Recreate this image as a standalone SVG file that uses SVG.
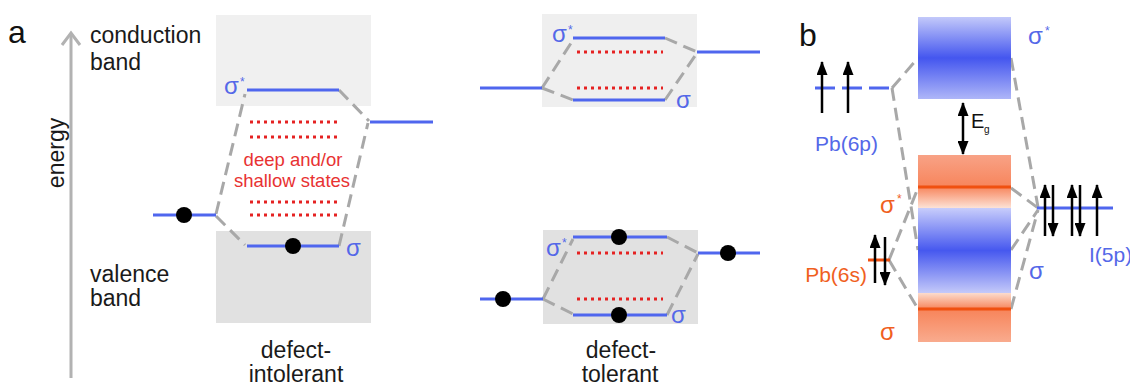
<svg xmlns="http://www.w3.org/2000/svg" width="1130" height="388" viewBox="0 0 1130 388">
  <style>
    text { font-family: "Liberation Sans", Arial, sans-serif; }
    .lbl { font-size: 23px; fill: #1a1a1a; }
    .panel { font-size: 32px; fill: #111; }
    .bl { fill: #5468e8; }
    .or { fill: #f0601e; }
    .sig { font-size: 24px; }
    .star { font-size: 12px; }
    .lvl { stroke: #4f66ee; stroke-width: 3; fill: none; }
    .dash { stroke: #a8a8a8; stroke-width: 3; stroke-dasharray: 13 7; fill: none; }
    .dots { stroke: #e52222; stroke-width: 3; stroke-dasharray: 3 4; fill: none; }
    .el { fill: #000; }
    .spin { stroke: #000; stroke-width: 2.5; fill: none; }
    .redtxt { font-size: 18.5px; fill: #e83232; }
  </style>
  <defs>
    <marker id="head" viewBox="0 0 14 11" refX="13" refY="5.5" markerWidth="14" markerHeight="11" markerUnits="userSpaceOnUse" orient="auto-start-reverse">
      <path d="M0,0 L14,5.5 L0,11 z" fill="#000"/>
    </marker>
    <linearGradient id="gBlueTop" x1="0" y1="0" x2="0" y2="1">
      <stop offset="0" stop-color="#c3c9fa"/>
      <stop offset="0.5" stop-color="#4456ef"/>
      <stop offset="1" stop-color="#aeb6f8"/>
    </linearGradient>
    <linearGradient id="gBlueMid" x1="0" y1="0" x2="0" y2="1">
      <stop offset="0" stop-color="#c8cdfb"/>
      <stop offset="0.5" stop-color="#4658ef"/>
      <stop offset="1" stop-color="#c4c9f9"/>
    </linearGradient>
    <linearGradient id="gOrTop" x1="0" y1="0" x2="0" y2="1">
      <stop offset="0" stop-color="#f8a286"/>
      <stop offset="0.6" stop-color="#f7855c"/>
      <stop offset="1" stop-color="#fde2d6"/>
    </linearGradient>
    <linearGradient id="gOrBot" x1="0" y1="0" x2="0" y2="1">
      <stop offset="0" stop-color="#fcdccd"/>
      <stop offset="0.33" stop-color="#f7845a"/>
      <stop offset="1" stop-color="#f9ab8e"/>
    </linearGradient>
  </defs>

  <!-- panel a: energy axis -->
  <g id="axis">
    <text class="panel" x="8" y="43">a</text>
    <line x1="71" y1="378" x2="71" y2="34" stroke="#b2b2b2" stroke-width="3"/>
    <polyline points="62,45 71,33 80,45" stroke="#b2b2b2" stroke-width="3" fill="none"/>
    <text class="lbl" transform="translate(64,153) rotate(-90)" text-anchor="middle">energy</text>
    <text class="lbl" x="90" y="43">conduction</text>
    <text class="lbl" x="90" y="70">band</text>
    <text class="lbl" x="90" y="282">valence</text>
    <text class="lbl" x="90" y="306">band</text>
  </g>

  <!-- band backgrounds -->
  <g id="bands">
    <rect x="216" y="15" width="155" height="91" fill="#f0f0f0"/>
    <rect x="216" y="231" width="155" height="92" fill="#e1e1e1"/>
    <rect x="542" y="14" width="155" height="93" fill="#efefef"/>
    <rect x="543" y="230" width="155" height="94" fill="#e1e1e1"/>
  </g>

  <!-- connectors -->
  <g id="connectors">
    <!-- defect-intolerant -->
    <line class="dash" x1="216" y1="214" x2="245" y2="94"/>
    <line class="dash" x1="216" y1="216" x2="245" y2="245"/>
    <line class="dash" x1="339" y1="90" x2="369" y2="121"/>
    <line class="dash" x1="339" y1="246" x2="368" y2="123"/>
    <!-- defect-tolerant, upper -->
    <line class="dash" x1="542" y1="88" x2="573" y2="40"/>
    <line class="dash" x1="542" y1="88" x2="573" y2="100"/>
    <line class="dash" x1="665" y1="38" x2="697" y2="52"/>
    <line class="dash" x1="665" y1="100" x2="697" y2="53"/>
    <!-- defect-tolerant, lower -->
    <line class="dash" x1="543" y1="299" x2="573" y2="239"/>
    <line class="dash" x1="543" y1="299" x2="573" y2="314"/>
    <line class="dash" x1="667" y1="237" x2="698" y2="253"/>
    <line class="dash" x1="667" y1="315" x2="698" y2="254"/>
    <!-- panel b -->
    <line class="dash" x1="892" y1="88" x2="918" y2="58"/>
    <line class="dash" x1="892" y1="88" x2="918" y2="250"/>
    <line class="dash" x1="1011" y1="58" x2="1038" y2="207"/>
    <line class="dash" x1="889" y1="260" x2="918" y2="188"/>
    <line class="dash" x1="889" y1="260" x2="918" y2="309"/>
    <line class="dash" x1="1011" y1="188" x2="1038" y2="208"/>
    <line class="dash" x1="1011" y1="250" x2="1038" y2="210"/>
    <line class="dash" x1="1011" y1="309" x2="1038" y2="210"/>
  </g>

  <!-- defect-intolerant -->
  <g id="intolerant">
    <line class="lvl" x1="247" y1="90" x2="339" y2="90"/>
    <text class="bl sig" x="224" y="94">σ</text>
    <text class="bl star" x="240" y="86">*</text>
    <line class="lvl" x1="370" y1="122" x2="433" y2="122"/>
    <line class="lvl" x1="153" y1="215" x2="216" y2="215"/>
    <circle class="el" cx="184" cy="215" r="8"/>
    <line class="lvl" x1="247" y1="246" x2="339" y2="246"/>
    <circle class="el" cx="293" cy="246" r="8"/>
    <text class="bl sig" x="346" y="256">σ</text>
    <line class="dots" x1="250" y1="122" x2="337" y2="122"/>
    <line class="dots" x1="250" y1="137" x2="337" y2="137"/>
    <line class="dots" x1="250" y1="202" x2="337" y2="202"/>
    <line class="dots" x1="250" y1="215" x2="337" y2="215"/>
    <text class="redtxt" x="293" y="166" text-anchor="middle">deep and/or</text>
    <text class="redtxt" x="292" y="187" text-anchor="middle">shallow states</text>
    <text class="lbl" x="296" y="358" text-anchor="middle">defect-</text>
    <text class="lbl" x="296" y="382" text-anchor="middle">intolerant</text>
  </g>

  <!-- defect-tolerant -->
  <g id="tolerant">
    <line class="lvl" x1="573" y1="38" x2="665" y2="38"/>
    <text class="bl sig" x="552" y="42">σ</text>
    <text class="bl star" x="568" y="34">*</text>
    <line class="lvl" x1="697" y1="52" x2="760" y2="52"/>
    <line class="lvl" x1="480" y1="88" x2="542" y2="88"/>
    <line class="lvl" x1="573" y1="100" x2="665" y2="100"/>
    <text class="bl sig" x="676" y="108">σ</text>
    <line class="dots" x1="577" y1="52" x2="663" y2="52"/>
    <line class="dots" x1="577" y1="88" x2="663" y2="88"/>

    <line class="lvl" x1="573" y1="237" x2="667" y2="237"/>
    <circle class="el" cx="619" cy="237" r="8"/>
    <text class="bl sig" x="546" y="256">σ</text>
    <text class="bl star" x="562" y="247">*</text>
    <line class="lvl" x1="698" y1="253" x2="760" y2="253"/>
    <circle class="el" cx="728" cy="253" r="8"/>
    <line class="lvl" x1="480" y1="299" x2="543" y2="299"/>
    <circle class="el" cx="503" cy="299" r="8"/>
    <line class="lvl" x1="573" y1="315" x2="667" y2="315"/>
    <circle class="el" cx="619" cy="315" r="8"/>
    <text class="bl sig" x="671" y="323">σ</text>
    <line class="dots" x1="577" y1="253" x2="663" y2="253"/>
    <line class="dots" x1="577" y1="299" x2="663" y2="299"/>
    <text class="lbl" x="621" y="358" text-anchor="middle">defect-</text>
    <text class="lbl" x="620" y="382" text-anchor="middle">tolerant</text>
  </g>

  <!-- panel b: band structure -->
  <g id="band-b">
    <text class="panel" x="799" y="46">b</text>
    <rect x="918" y="17" width="93" height="82" fill="url(#gBlueTop)"/>
    <rect x="918" y="155" width="93" height="53" fill="url(#gOrTop)"/>
    <rect x="918" y="208" width="93" height="85" fill="url(#gBlueMid)"/>
    <rect x="918" y="293" width="93" height="49" fill="url(#gOrBot)"/>
    <line x1="918" y1="187" x2="1011" y2="187" stroke="#f05010" stroke-width="3"/>
    <line x1="918" y1="309" x2="1011" y2="309" stroke="#f05010" stroke-width="3"/>
    <text class="bl sig" x="1028" y="44">σ</text>
    <text class="bl star" x="1045" y="35">*</text>
    <text class="or sig" x="880" y="213">σ</text>
    <text class="or star" x="897" y="203">*</text>
    <text class="or sig" x="880" y="340">σ</text>
    <text class="bl sig" x="1029" y="279">σ</text>
  </g>

  <g id="gap">
    <line class="spin" x1="963" y1="103" x2="963" y2="154" marker-start="url(#head)" marker-end="url(#head)"/>
    <text x="971" y="128" font-size="20" fill="#111">E</text>
    <text x="984" y="133" font-size="10" fill="#111">g</text>
  </g>

  <g id="pb6p">
    <line class="lvl" x1="815" y1="88" x2="892" y2="88" stroke-dasharray="20 7"/>
    <line class="spin" x1="822" y1="113" x2="822" y2="62" marker-end="url(#head)"/>
    <line class="spin" x1="848" y1="113" x2="848" y2="62" marker-end="url(#head)"/>
    <text class="bl" x="815" y="151" font-size="21">Pb(6p)</text>
  </g>

  <g id="pb6s">
    <line x1="868" y1="260" x2="890" y2="260" stroke="#f05010" stroke-width="3"/>
    <line class="spin" x1="875" y1="283" x2="875" y2="235" marker-end="url(#head)"/>
    <line class="spin" x1="885" y1="237" x2="885" y2="285" marker-end="url(#head)"/>
    <text class="or" x="867" y="282" font-size="21" text-anchor="end">Pb(6s)</text>
  </g>

  <g id="i5p">
    <line class="lvl" x1="1037" y1="208" x2="1113" y2="208"/>
    <line class="spin" x1="1045" y1="236" x2="1045" y2="185" marker-end="url(#head)"/>
    <line class="spin" x1="1053" y1="185" x2="1053" y2="236" marker-end="url(#head)"/>
    <line class="spin" x1="1072" y1="236" x2="1072" y2="185" marker-end="url(#head)"/>
    <line class="spin" x1="1080" y1="185" x2="1080" y2="236" marker-end="url(#head)"/>
    <line class="spin" x1="1097" y1="236" x2="1097" y2="185" marker-end="url(#head)"/>
    <text class="bl" x="1089" y="262" font-size="21">I(5p)</text>
  </g>
</svg>
